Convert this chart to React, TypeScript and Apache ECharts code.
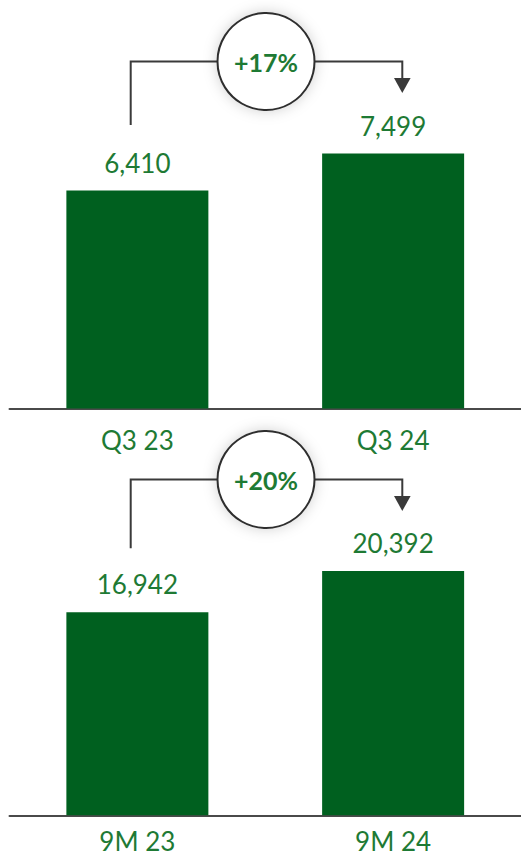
import React, { useEffect, useRef } from "react";
import * as echarts from "echarts";

const quarterCategories = ["Q3 23", "Q3 24"];
const quarterValues = [6410, 7499];
const ytdCategories = ["9M 23", "9M 24"];
const ytdValues = [16942, 20392];
const growthLabels = ["+17%", "+20%"];

const BAR = "#00601f";
const TXT = "#1e7a34";
const LINE = "#3a3a3a";
const FONT = "Lato, 'Open Sans', sans-serif";

function fmt(v: number) {
  return v.toLocaleString("en-US");
}

function connector(dy: number, leftBottom: number, label: string) {
  const cx = 266;
  const cy = 61.5 + dy;
  const r = 48.5;
  return [
    {
      type: "polyline",
      shape: { points: [[130.7, leftBottom], [130.7, cy], [cx - r, cy]] },
      style: { stroke: LINE, lineWidth: 2, fill: null },
      z: 10,
    },
    {
      type: "polyline",
      shape: { points: [[cx + r, cy], [402.3, cy], [402.3, cy + 18]] },
      style: { stroke: LINE, lineWidth: 2, fill: null },
      z: 10,
    },
    {
      type: "polygon",
      shape: { points: [[394, cy + 16.5], [410.6, cy + 16.5], [402.3, cy + 31.5]] },
      style: { fill: LINE },
      z: 10,
    },
    {
      type: "circle",
      shape: { cx, cy, r },
      style: {
        fill: "#ffffff",
        stroke: "#2e2e2e",
        lineWidth: 2,
        shadowBlur: 14,
        shadowColor: "rgba(0,0,0,0.18)",
      },
      z: 11,
    },
    {
      type: "text",
      x: cx,
      y: cy,
      style: {
        text: label,
        fill: TXT,
        font: `bold 25px ${FONT}`,
        align: "center",
        verticalAlign: "middle",
      },
      z: 12,
    },
  ];
}

export default function App() {
  const ref = useRef<HTMLDivElement>(null);
  useEffect(() => {
    if (!ref.current) return;
    const chart = echarts.init(ref.current, null, { renderer: "svg" });
    const xAxisBase = {
      type: "category",
      axisLine: { show: true, lineStyle: { color: "#4a4a4a", width: 2 } },
      axisTick: { show: false },
    };
    const axisLabelBase = { color: TXT, fontSize: 26, lineHeight: 20, fontFamily: FONT };
    const yAxisBase = {
      type: "value",
      min: 0,
      show: false,
      splitLine: { show: false },
    };
    const labelBase = {
      show: true,
      position: "top",
      distance: 15,
      color: TXT,
      fontSize: 26,
      fontFamily: FONT,
      formatter: (p: any) => fmt(p.value),
    };
    chart.setOption({
      animation: false,
      grid: [
        { left: 9.5, width: 514, top: 68.6, height: 339.9 },
        { left: 9.5, width: 514, top: 455.9, height: 359.4 },
      ],
      xAxis: [
        { ...xAxisBase, gridIndex: 0, data: quarterCategories, axisLabel: { ...axisLabelBase, margin: 21 } },
        { ...xAxisBase, gridIndex: 1, data: ytdCategories, axisLabel: { ...axisLabelBase, margin: 16 } },
      ],
      yAxis: [
        { ...yAxisBase, gridIndex: 0, max: 10000 },
        { ...yAxisBase, gridIndex: 1, max: 30000 },
      ],
      series: [
        {
          type: "bar",
          xAxisIndex: 0,
          yAxisIndex: 0,
          data: quarterValues,
          barWidth: 142,
          itemStyle: { color: BAR },
          label: labelBase,
        },
        {
          type: "bar",
          xAxisIndex: 1,
          yAxisIndex: 1,
          data: ytdValues,
          barWidth: 142,
          itemStyle: { color: BAR },
          label: labelBase,
        },
      ],
      graphic: [...connector(0, 125, growthLabels[0]), ...connector(418, 548.3, growthLabels[1])],
    });
    return () => chart.dispose();
  }, []);
  return (
    <div
      ref={ref}
      style={{ position: "fixed", left: 0, top: 0, width: 521, height: 857, background: "#fff" }}
    />
  );
}
